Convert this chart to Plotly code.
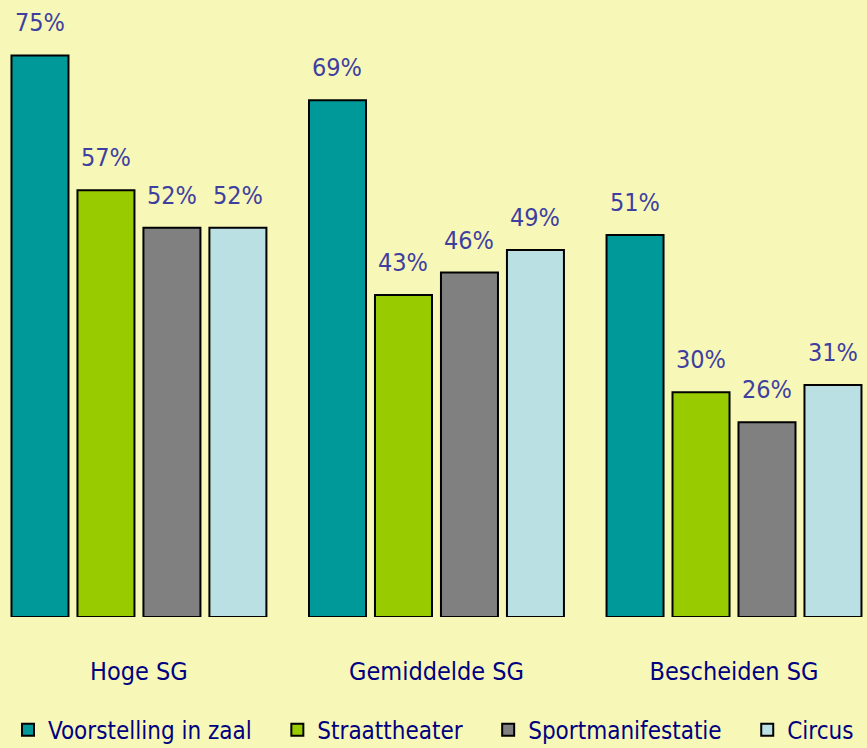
import plotly.graph_objects as go

categories = ["Hoge SG", "Gemiddelde SG", "Bescheiden SG"]
series_names = ["Voorstelling in zaal", "Straattheater", "Sportmanifestatie", "Circus"]
voorstelling = [75, 69, 51]
straattheater = [57, 43, 30]
sportmanifestatie = [52, 46, 26]
circus = [52, 49, 31]
colors = ["#009999", "#99CC00", "#808080", "#BBE0E3"]

values = [voorstelling, straattheater, sportmanifestatie, circus]
FONT = "DejaVu Sans Condensed, Liberation Sans Narrow, sans-serif"
FS = 25
PAD = "\u00a0" * 3

fig = go.Figure()
for i, (name, vals, col) in enumerate(zip(series_names, values, colors)):
    label = name + (PAD if i < len(series_names) - 1 else "")
    fig.add_trace(go.Bar(
        name=label, x=categories, y=vals,
        marker=dict(color=col, line=dict(color="#000000", width=2)),
    ))

# value labels
offsets = [-99, -33, 33, 99]
for vals, off in zip(values, offsets):
    for c, v in zip(categories, vals):
        fig.add_annotation(x=c, y=v, text=f"{v}%", showarrow=False,
                           xref="x", yref="y", xshift=off, yshift=16,
                           yanchor="bottom",
                           font=dict(family=FONT, size=FS, color="#3F3FA0"))

fig.update_layout(
    width=867, height=748,
    paper_bgcolor="#F7F8B8", plot_bgcolor="#F7F8B8",
    margin=dict(l=0, r=0, t=0, b=131),
    barmode="group", bargap=0.113, bargroupgap=0.136,
    font=dict(family=FONT, size=FS, color="#000080"),
    xaxis=dict(range=[-0.467, 2.447], showgrid=False, zeroline=False,
               showline=False, ticks="", ticklabelstandoff=37, automargin=False,
               tickfont=dict(size=FS, color="#000080")),
    yaxis=dict(range=[0, 82.4], visible=False, automargin=False),
    legend=dict(orientation="h", x=0.5, xanchor="center", xref="container",
                y=0.024, yanchor="middle", yref="container",
                font=dict(size=24, color="#000080"), bgcolor="rgba(0,0,0,0)",
                itemsizing="constant", tracegroupgap=0),
    showlegend=True,
)
fig.write_html("out.html", config={"displayModeBar": False},
               post_script="document.body.style.margin='0';document.body.style.overflow='hidden';")
